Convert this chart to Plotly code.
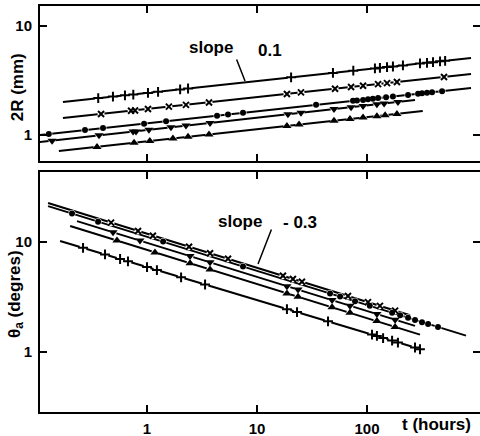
import numpy as np
import plotly.graph_objects as go

# ---------------- data: top panel (2R, mm) ----------------
T_PLUS_T = [0.36, 0.49, 0.63, 0.75, 1.02, 1.26, 2.0, 2.36, 20.4, 49, 75, 118, 131, 152, 172, 212, 303, 351, 398, 461, 513]
T_PLUS_V = [2.18, 2.25, 2.31, 2.35, 2.43, 2.49, 2.62, 2.67, 3.38, 3.71, 3.89, 4.08, 4.13, 4.20, 4.25, 4.35, 4.53, 4.59, 4.66, 4.74, 4.79]
T_X_T = [0.382, 0.716, 0.778, 1.02, 1.58, 2.26, 3.66, 18.7, 25.1, 51.2, 71.6, 92, 126, 152, 187, 501]
T_X_V = [1.56, 1.67, 1.68, 1.73, 1.82, 1.89, 1.99, 2.38, 2.46, 2.66, 2.76, 2.83, 2.93, 2.99, 3.06, 3.41]
T_DOT_T = [0.128, 0.273, 0.398, 0.94, 1.49, 4.33, 5.45, 7.46, 34.4, 74.6, 81, 92, 102, 113, 126, 149, 172, 236, 291, 316, 351, 390, 481]
T_DOT_V = [1.02, 1.11, 1.16, 1.27, 1.34, 1.50, 1.54, 1.60, 1.89, 2.06, 2.07, 2.10, 2.13, 2.15, 2.18, 2.22, 2.25, 2.33, 2.39, 2.41, 2.44, 2.47, 2.52]
T_DN_T = [0.137, 0.366, 0.747, 0.794, 1.04, 1.65, 2.26, 3.74, 19.1, 25.1, 50.1, 71.6, 92, 123, 143, 191]
T_DN_V = [0.887, 0.993, 1.08, 1.08, 1.12, 1.18, 1.22, 1.29, 1.55, 1.60, 1.73, 1.80, 1.85, 1.92, 1.95, 2.01]
T_UP_T = [0.351, 0.762, 1.06, 1.72, 2.36, 3.66, 18.7, 24.1, 50.1, 70, 92, 123, 146, 187]
T_UP_V = [0.778, 0.849, 0.881, 0.929, 0.962, 1.01, 1.21, 1.25, 1.35, 1.40, 1.45, 1.49, 1.52, 1.56]

# fitted straight lines (slope ~0.1), end points
FIT_T_PLUS_T = [0.172, 882]
FIT_T_PLUS_V = [2.01, 5.09]
FIT_T_X_T = [0.172, 882]
FIT_T_X_V = [1.43, 3.63]
FIT_T_DOT_T = [0.106, 882]
FIT_T_DOT_V = [1.00, 2.70]
FIT_T_DN_T = [0.106, 273]
FIT_T_DN_V = [0.863, 2.09]
FIT_T_UP_T = [0.158, 321]
FIT_T_UP_V = [0.713, 1.66]

# ---------------- data: bottom panel (theta_a, degrees) ----------------
B_X_T = [0.471, 0.828, 1.13, 2.41, 3.74, 5.45, 17.2, 21.2, 25.6, 67.1, 102, 131, 180]
B_X_V = [15.0, 12.6, 11.4, 9.07, 7.91, 7.05, 4.93, 4.62, 4.36, 3.23, 2.84, 2.63, 2.38]
B_DOT_T = [0.208, 0.359, 1.40, 7.46, 46.1, 56.9, 77.8, 106, 169, 200, 236, 273, 316, 359, 442]
B_DOT_V = [18.2, 15.3, 10.1, 5.98, 3.40, 3.19, 2.90, 2.63, 2.28, 2.16, 2.05, 1.96, 1.87, 1.80, 1.69]
B_DN_T = [0.491, 0.863, 2.46, 3.74, 18.7, 23.6, 48.1, 70.0, 123, 180]
B_DN_V = [12.3, 10.3, 7.46, 6.55, 3.97, 3.70, 2.97, 2.64, 2.22, 1.97]
B_UP_T = [0.533, 1.18, 2.46, 3.74, 18.7, 23.6, 48.1, 70.0, 123, 180]
B_UP_V = [10.3, 8.04, 6.41, 5.62, 3.41, 3.18, 2.55, 2.27, 1.91, 1.69]
B_PLUS_T = [0.262, 0.415, 0.569, 0.671, 1.0, 1.23, 2.04, 3.37, 18.7, 23.1, 44.2, 111, 123, 140, 169, 191, 273, 303]
B_PLUS_V = [8.85, 7.71, 7.01, 6.67, 5.92, 5.56, 4.78, 4.11, 2.45, 2.31, 1.90, 1.44, 1.40, 1.34, 1.27, 1.22, 1.10, 1.06]

FIT_B_X_T = [0.126, 246]
FIT_B_X_V = [22.6, 2.16]
FIT_B_DOT_T = [0.126, 794]
FIT_B_DOT_V = [21.2, 1.41]
FIT_B_DN_T = [0.231, 273]
FIT_B_DN_V = [15.5, 1.73]
FIT_B_UP_T = [0.2, 303]
FIT_B_UP_V = [14.0, 1.44]
FIT_B_PLUS_T = [0.162, 273]
FIT_B_PLUS_V = [10.2, 1.10]

X_TICKS = [1, 10, 100]
X_TICK_TEXT = ["1", "10", "100"]
Y_TICKS = [1, 10]
Y_TICK_TEXT = ["1", "10"]

FONT = "Liberation Sans, Arial, sans-serif"

top = [
    (T_PLUS_T, T_PLUS_V, FIT_T_PLUS_T, FIT_T_PLUS_V, "plus"),
    (T_X_T, T_X_V, FIT_T_X_T, FIT_T_X_V, "x"),
    (T_DOT_T, T_DOT_V, FIT_T_DOT_T, FIT_T_DOT_V, "dot"),
    (T_DN_T, T_DN_V, FIT_T_DN_T, FIT_T_DN_V, "down"),
    (T_UP_T, T_UP_V, FIT_T_UP_T, FIT_T_UP_V, "up"),
]
bottom = [
    (B_X_T, B_X_V, FIT_B_X_T, FIT_B_X_V, "x"),
    (B_DOT_T, B_DOT_V, FIT_B_DOT_T, FIT_B_DOT_V, "dot"),
    (B_DN_T, B_DN_V, FIT_B_DN_T, FIT_B_DN_V, "down"),
    (B_UP_T, B_UP_V, FIT_B_UP_T, FIT_B_UP_V, "up"),
    (B_PLUS_T, B_PLUS_V, FIT_B_PLUS_T, FIT_B_PLUS_V, "plus"),
]

STYLE = {
    "plus": dict(symbol="cross-thin", size=7, color="black", line=dict(width=2, color="black")),
    "x": dict(symbol="x-thin", size=6, color="black", line=dict(width=2, color="black")),
    "dot": dict(symbol="circle", size=6, color="black", line=dict(width=0)),
    "down": dict(symbol="triangle-down", size=8, color="black", line=dict(width=0)),
    "up": dict(symbol="triangle-up", size=8, color="black", line=dict(width=0)),
}

fig = go.Figure()
for groups, xa, ya in ((top, "x", "y"), (bottom, "x2", "y2")):
    for t, v, ft, fv, kind in groups:
        fig.add_trace(go.Scatter(x=ft, y=fv, mode="lines", line=dict(color="black", width=2),
                                 xaxis=xa, yaxis=ya, hoverinfo="skip"))
    for t, v, ft, fv, kind in groups:
        fig.add_trace(go.Scatter(x=t, y=v, mode="markers", xaxis=xa, yaxis=ya, hoverinfo="skip",
                                 marker=dict(symbol="circle", size=7, color="white", line=dict(width=0))))
    for t, v, ft, fv, kind in groups:
        fig.add_trace(go.Scatter(x=t, y=v, mode="markers", xaxis=xa, yaxis=ya,
                                 marker=STYLE[kind]))

axis_common = dict(type="log", showgrid=False, zeroline=False, showline=True, linecolor="black",
                   linewidth=2, mirror="ticks", ticks="inside", ticklen=7, tickwidth=2,
                   automargin=False,
                   tickcolor="black", tickfont=dict(family=FONT, size=15, color="black", weight="bold"))

fig.update_layout(
    width=480, height=436, showlegend=False,
    paper_bgcolor="white", plot_bgcolor="white",
    margin=dict(l=40, r=0, t=6, b=24, autoexpand=False),
    xaxis=dict(axis_common, domain=[0, 1], anchor="y", range=[-0.973, 3.027],
               tickvals=X_TICKS, showticklabels=False),
    yaxis=dict(axis_common, domain=[0.618, 1], anchor="x", range=[-0.239, 1.183],
               tickvals=Y_TICKS, ticktext=Y_TICK_TEXT, ticklabelstandoff=3),
    xaxis2=dict(axis_common, domain=[0, 1], anchor="y2", range=[-0.973, 3.027],
                tickvals=X_TICKS, ticktext=X_TICK_TEXT, ticklabelstandoff=2),
    yaxis2=dict(axis_common, domain=[0, 0.591], anchor="x2", range=[-0.545, 1.636],
                tickvals=Y_TICKS, ticktext=Y_TICK_TEXT, ticklabelstandoff=3),
)

bold = dict(family=FONT, size=16, color="black", weight="bold")
anns = [
    dict(text="2R (mm)", xref="paper", yref="paper", x=-0.052, y=0.800, textangle=-90,
         xanchor="center", yanchor="middle", showarrow=False, font=dict(bold, size=17)),
    dict(text="θ<sub>a</sub> (degres)", xref="paper", yref="paper", x=-0.055, y=0.29, textangle=-90,
         xanchor="center", yanchor="middle", showarrow=False, font=dict(bold, size=17)),
    dict(text="t (hours)", xref="paper", yref="paper", x=0.9, y=-0.032,
         xanchor="center", yanchor="middle", showarrow=False, font=dict(bold, size=17)),
    # top slope label
    dict(text="slope", xref="x", yref="y", x=0.582, y=0.798, showarrow=False, font=dict(bold, size=17)),
    dict(text="0.1", xref="x", yref="y", x=1.118, y=0.771, showarrow=False, font=dict(bold, size=17)),
    dict(text="", xref="x", yref="y", x=0.891, y=0.495, axref="x", ayref="y", ax=0.809, ay=0.706,
         showarrow=True, arrowhead=0, arrowwidth=1.5, arrowcolor="black"),
    # bottom slope label
    dict(text="slope", xref="x2", yref="y2", x=0.845, y=1.191, showarrow=False, font=dict(bold, size=17)),
    dict(text="- 0.3", xref="x2", yref="y2", x=1.391, y=1.182, showarrow=False, font=dict(bold, size=17)),
    dict(text="", xref="x2", yref="y2", x=1.009, y=0.80, axref="x2", ayref="y2", ax=1.136, ay=1.127,
         showarrow=True, arrowhead=0, arrowwidth=1.5, arrowcolor="black"),
]
fig.update_layout(annotations=anns)

fig.write_html("out.html", config={"displayModeBar": False},
               post_script="document.body.style.margin='0px';")
